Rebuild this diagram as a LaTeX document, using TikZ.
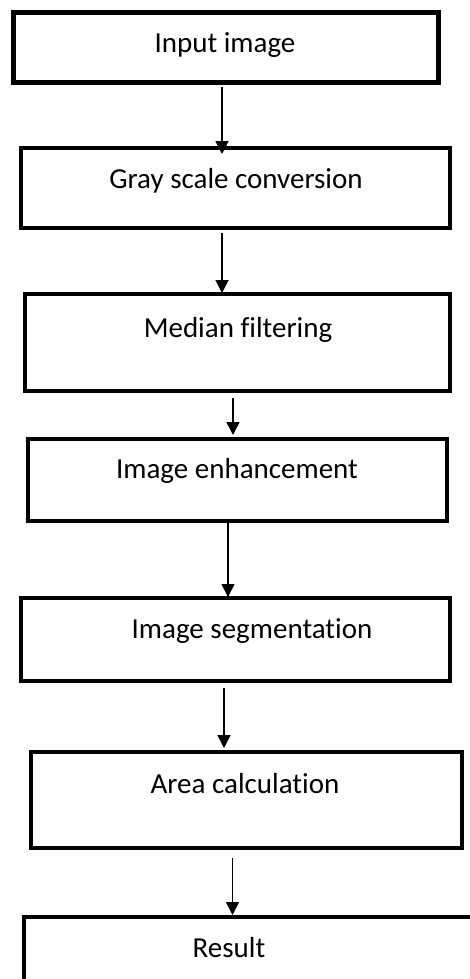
\documentclass[tikz,border=0pt]{standalone}
\usepackage{fontspec}
\setmainfont{Carlito}[RawFeature={-liga}]
\usetikzlibrary{arrows.meta}
\tikzset{
  box/.style={draw=black, fill=white, line width=4pt, inner sep=0pt, rectangle},
  lbl/.style={anchor=base, inner sep=0pt, font=\fontsize{29}{33}\selectfont},
  arr/.style={draw=black, line width=1.6pt, -{Triangle[length=13pt,width=13pt]}},
}
\begin{document}
\begin{tikzpicture}[x=1pt,y=-1pt]
\useasboundingbox (0,0) rectangle (470,979);
\clip (0,0) rectangle (470,979);
\fill[white] (0,0) rectangle (470,979);
% boxes
\node[box, line width=5pt, minimum width=425pt, minimum height=70.5pt] (b1) at (226,47.75) {};
\node[box, minimum width=429pt, minimum height=80pt] (b2) at (235.5,188) {};
\node[box, minimum width=425pt, minimum height=97pt] (b3) at (237.5,342.5) {};
\node[box, minimum width=419pt, minimum height=82pt] (b4) at (237.5,480) {};
\node[box, minimum width=429pt, minimum height=83pt] (b5) at (235.5,639.5) {};
\node[box, minimum width=431pt, minimum height=96pt] (b6) at (246.5,800) {};
\node[box, minimum width=466pt, minimum height=83pt] (b7) at (257,958.5) {};
% labels
\node[lbl] (t1) at (225,53) {Input image};
\node[lbl] (t2) at (236,188) {Gray scale conversion};
\node[lbl] (t3) at (238,337) {Median filtering};
\node[lbl] (t4) at (237,478) {Image enhancement};
\node[lbl] (t5) at (252,638) {Image segmentation};
\node[lbl] (t6) at (245,793) {Area calculation};
\node[lbl] (t7) at (229,957) {Result};
% arrow x positions
\coordinate (x1) at (222,0);
\coordinate (x2) at (222,0);
\coordinate (x3) at (233,0);
\coordinate (x4) at (228,0);
\coordinate (x5) at (224,0);
\coordinate (x6) at (232.5,0);
% connectors
\draw[arr, shorten <=2pt, shorten >=-8pt] (b1.south -| x1) -- (b2.north -| x1);
\draw[arr, shorten <=3pt, shorten >=-1pt] (b2.south -| x2) -- (b3.north -| x2);
\draw[arr, shorten <=5pt, shorten >=2pt] (b3.south -| x3) -- (b4.north -| x3);
\draw[arr, shorten <=0pt, shorten >=-1pt] (b4.south -| x4) -- (b5.north -| x4);
\draw[arr, shorten <=5pt, shorten >=2pt] (b5.south -| x5) -- (b6.north -| x5);
\draw[arr, shorten <=8pt, shorten >=0pt] (b6.south -| x6) -- (b7.north -| x6);
\end{tikzpicture}
\end{document}
